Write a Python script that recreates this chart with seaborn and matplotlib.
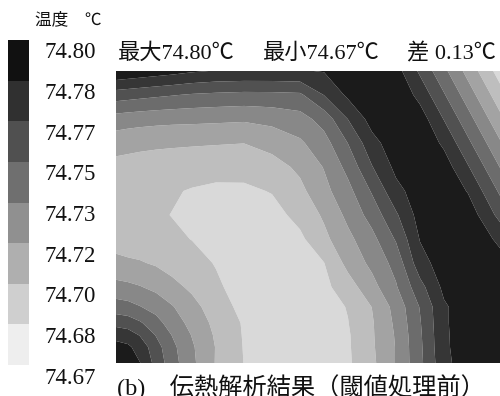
import numpy as np
import matplotlib
matplotlib.use("Agg")
import matplotlib.pyplot as plt
import matplotlib.transforms as mtransforms
import matplotlib.cm as cm
from matplotlib.colors import ListedColormap, BoundaryNorm
import seaborn as sns

# Sample positions of the temperature field (pixels across / down the plate)
X_POS = [0, 12, 24, 40, 56, 76, 100, 128, 156, 184, 208, 232, 256, 280, 304, 328, 352, 384]
Y_POS = [0, 24, 48, 72, 96, 120, 144, 168, 192, 216, 236, 252, 264, 276, 292]

# Temperature at each sample point, one list per row (°C)
TEMP = [
    [74.7984, 74.7964, 74.7945, 74.7919, 74.7894, 74.7857, 74.7829, 74.7821, 74.7821, 74.7826, 74.7846, 74.7919, 74.7968, 74.7903, 74.7646, 74.7389, 74.7132, 74.6789],
    [74.7594, 74.7578, 74.7561, 74.7540, 74.7521, 74.7496, 74.7480, 74.7467, 74.7470, 74.7483, 74.7678, 74.7870, 74.7959, 74.7976, 74.7784, 74.7527, 74.7270, 74.6929],
    [74.7279, 74.7264, 74.7253, 74.7241, 74.7233, 74.7228, 74.7220, 74.7210, 74.7236, 74.7285, 74.7415, 74.7678, 74.7903, 74.7976, 74.7919, 74.7667, 74.7410, 74.7067],
    [74.7090, 74.7074, 74.7061, 74.7051, 74.7045, 74.7040, 74.7035, 74.7027, 74.7082, 74.7163, 74.7285, 74.7516, 74.7781, 74.7935, 74.7968, 74.7805, 74.7548, 74.7207],
    [74.6973, 74.6968, 74.6963, 74.6957, 74.6952, 74.6941, 74.6921, 74.6919, 74.6960, 74.7058, 74.7196, 74.7399, 74.7667, 74.7878, 74.7959, 74.7919, 74.7688, 74.7345],
    [74.6928, 74.6924, 74.6919, 74.6903, 74.6879, 74.6850, 74.6830, 74.6833, 74.6871, 74.6984, 74.7139, 74.7301, 74.7529, 74.7789, 74.7919, 74.7968, 74.7826, 74.7485],
    [74.6915, 74.6908, 74.6898, 74.6882, 74.6859, 74.6814, 74.6789, 74.6781, 74.6806, 74.6911, 74.7049, 74.7228, 74.7415, 74.7651, 74.7903, 74.7968, 74.7935, 74.7623],
    [74.6960, 74.6947, 74.6931, 74.6911, 74.6889, 74.6859, 74.6798, 74.6773, 74.6781, 74.6830, 74.6984, 74.7147, 74.7301, 74.7529, 74.7846, 74.7959, 74.7976, 74.7797],
    [74.7066, 74.7049, 74.7038, 74.7006, 74.6960, 74.6911, 74.6854, 74.6781, 74.6740, 74.6798, 74.6859, 74.7074, 74.7228, 74.7407, 74.7773, 74.7919, 74.7976, 74.7903],
    [74.7240, 74.7223, 74.7196, 74.7147, 74.7074, 74.6993, 74.6887, 74.6798, 74.6702, 74.6773, 74.6822, 74.6952, 74.7131, 74.7334, 74.7618, 74.7878, 74.7959, 74.7976],
    [74.7426, 74.7405, 74.7358, 74.7288, 74.7201, 74.7080, 74.6941, 74.6814, 74.6773, 74.6765, 74.6798, 74.6871, 74.7028, 74.7244, 74.7521, 74.7813, 74.7935, 74.7976],
    [74.7621, 74.7597, 74.7532, 74.7413, 74.7270, 74.7139, 74.6980, 74.6846, 74.6781, 74.6773, 74.6789, 74.6858, 74.7009, 74.7220, 74.7500, 74.7813, 74.7935, 74.7976],
    [74.7784, 74.7750, 74.7664, 74.7503, 74.7345, 74.7179, 74.7002, 74.6850, 74.6789, 74.6781, 74.6789, 74.6846, 74.7006, 74.7204, 74.7488, 74.7808, 74.7935, 74.7976],
    [74.7891, 74.7865, 74.7773, 74.7579, 74.7394, 74.7209, 74.7017, 74.6854, 74.6789, 74.6781, 74.6789, 74.6843, 74.7001, 74.7196, 74.7480, 74.7805, 74.7935, 74.7976],
    [74.7998, 74.7919, 74.7841, 74.7621, 74.7420, 74.7223, 74.7014, 74.6859, 74.6798, 74.6781, 74.6789, 74.6838, 74.6989, 74.7196, 74.7472, 74.7789, 74.7935, 74.7976],
]

# Colour scale range and labels
SCALE_MIN = 74.67
SCALE_MAX = 74.80
N_BANDS = 8
CBAR_LABELS = ["74.67", "74.68", "74.70", "74.72", "74.73", "74.75", "74.77", "74.78", "74.80"]

TITLE = "温度\u3000℃"
CAPTION = "(b)\u3000伝熱解析結果（閾値処理前）"

sns.set_theme(style="white")
plt.rcParams["font.family"] = ["Liberation Serif", "Noto Sans CJK JP"]

temp = np.array(TEMP)
levels = np.linspace(SCALE_MIN, SCALE_MAX, N_BANDS + 1)
field_colors = sns.blend_palette(["#d9d9d9", "#1b1b1b"], N_BANDS)
bar_colors = sns.blend_palette(["#eeeeee", "#111111"], N_BANDS)

W, H = 500, 396
fig = plt.figure(figsize=(W / 100, H / 100), dpi=100)

# Filled temperature contours
ax = fig.add_axes([116 / W, 33 / H, 384 / W, 292 / H])
ax.contourf(X_POS, Y_POS, temp, levels=levels, colors=field_colors, antialiased=True)
ax.set_xlim(X_POS[0], X_POS[-1])
ax.set_ylim(Y_POS[-1], Y_POS[0])
ax.set_axis_off()

# Discrete colour bar on the left
cax = fig.add_axes([8 / W, 31 / H, 21 / W, 325 / H])
sm = cm.ScalarMappable(norm=BoundaryNorm(levels, N_BANDS), cmap=ListedColormap(bar_colors))
cb = fig.colorbar(sm, cax=cax, spacing="uniform")
cb.outline.set_visible(False)
cb.set_ticks([])
cb.minorticks_off()
cax.tick_params(which="both", length=0, labelleft=False, labelright=False)
shift = mtransforms.ScaledTranslation(0, -13 / 100, fig.dpi_scale_trans)
label_tf = mtransforms.blended_transform_factory(cax.transAxes, cax.transData) + shift
for lev, lab in zip(levels, CBAR_LABELS):
    cax.text((45 - 8) / 21, lev, lab, transform=label_tf, ha="left", va="center",
             fontsize=16.5, color="#111111")

# Header with the extreme values of the field
t_max, t_min = temp.max(), temp.min()
header_y = (H - 54) / H
fig.text(118 / W, header_y, f"最大{t_max:.2f}℃", fontsize=16, va="center", color="#111111")
fig.text(263 / W, header_y, f"最小{t_min:.2f}℃", fontsize=16, va="center", color="#111111")
fig.text(407 / W, header_y, f"差 {t_max - t_min:.2f}℃", fontsize=16, va="center", color="#111111")

fig.text(35 / W, (H - 20) / H, TITLE, fontsize=12, va="center", color="#111111")
fig.text(117 / W, (H - 387) / H, CAPTION, fontsize=17.5, va="center", color="#111111")

fig.savefig("out.png", dpi=100)
